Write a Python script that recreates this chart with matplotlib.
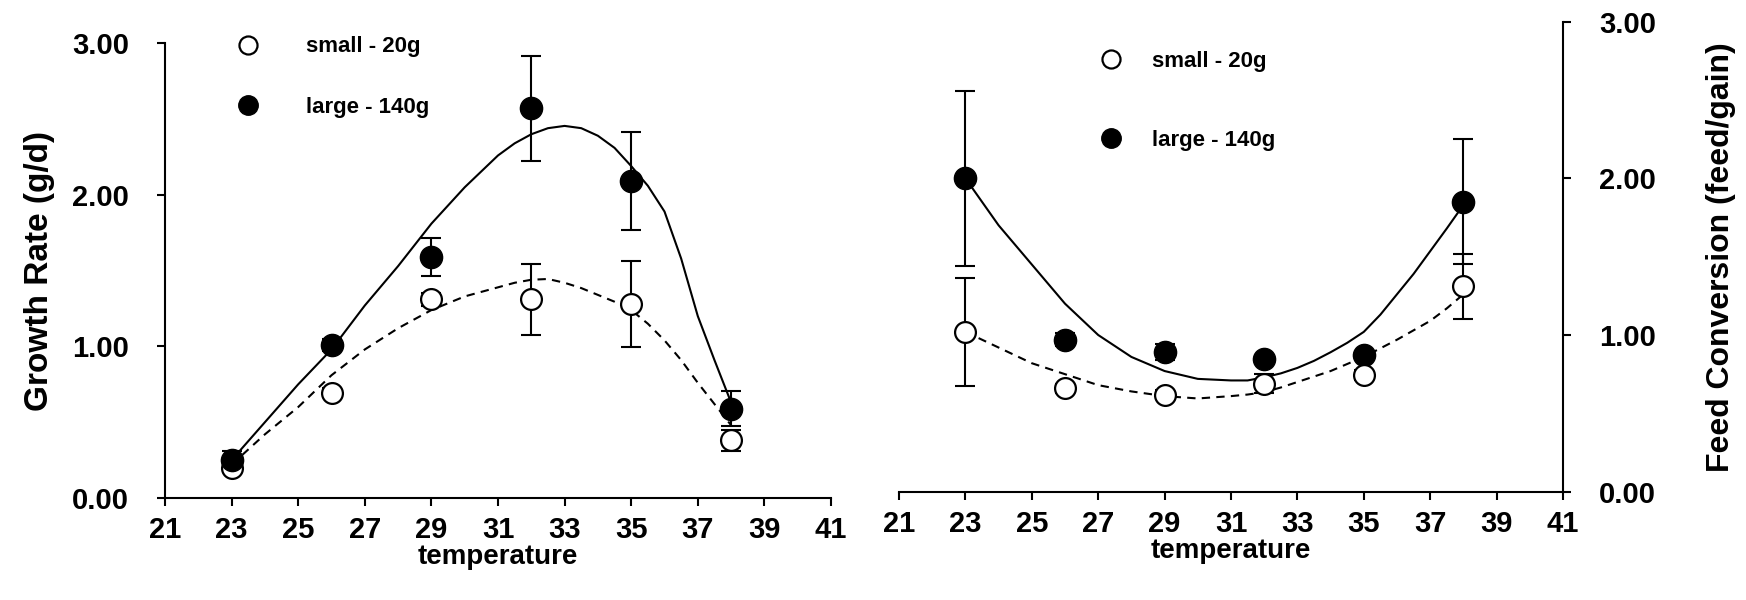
import numpy as np
import matplotlib
matplotlib.use('Agg')
import matplotlib.pyplot as plt
from matplotlib.lines import Line2D

# ── Fonts ─────────────────────────────────────────────────────────────────────
FONT = ['Liberation Sans', 'DejaVu Sans']
plt.rcParams['font.family'] = FONT
plt.rcParams['font.weight'] = 'bold'

# ── Data ──────────────────────────────────────────────────────────────────────
temp = [23, 26, 29, 32, 35, 38]

# growth rate (g/d)
growth_small = [0.20, 0.695, 1.31, 1.31, 1.28, 0.38]
growth_small_err = [0.03, 0.03, 0.04, 0.235, 0.285, 0.07]
growth_large = [0.25, 1.01, 1.59, 2.57, 2.09, 0.59]
growth_large_err = [0.06, 0.04, 0.125, 0.345, 0.325, 0.115]

# feed conversion (feed/gain)
fcr_small = [1.02, 0.66, 0.62, 0.69, 0.745, 1.31]
fcr_small_err = [0.345, 0.03, 0.03, 0.06, 0.03, 0.21]
fcr_large = [2.00, 0.97, 0.89, 0.845, 0.87, 1.85]
fcr_large_err = [0.56, 0.04, 0.05, 0.03, 0.03, 0.40]

# fitted trend curves
fit_t = [23, 24, 25, 26, 27, 28, 29, 30, 31, 31.5, 32, 32.5, 33, 33.5, 34,
         34.5, 35, 35.5, 36, 36.5, 37, 37.5, 38]
growth_small_fit = [0.22, 0.42, 0.60, 0.81, 0.98, 1.12, 1.24, 1.33, 1.39, 1.42,
                    1.44, 1.445, 1.42, 1.385, 1.34, 1.295, 1.24, 1.15, 1.04,
                    0.91, 0.76, 0.62, 0.48]
growth_large_fit = [0.25, 0.50, 0.75, 0.98, 1.27, 1.53, 1.81, 2.05, 2.26, 2.34,
                    2.40, 2.44, 2.455, 2.44, 2.39, 2.31, 2.19, 2.06, 1.89,
                    1.58, 1.20, 0.91, 0.63]
fcr_small_fit = [1.02, 0.92, 0.82, 0.75, 0.68, 0.64, 0.61, 0.595, 0.61, 0.62,
                 0.635, 0.665, 0.70, 0.735, 0.77, 0.815, 0.86, 0.915, 0.97,
                 1.03, 1.09, 1.17, 1.26]
fcr_large_fit = [2.00, 1.70, 1.45, 1.20, 1.00, 0.86, 0.77, 0.72, 0.71, 0.71,
                 0.73, 0.755, 0.79, 0.835, 0.89, 0.95, 1.02, 1.13, 1.26,
                 1.39, 1.535, 1.68, 1.83]

xticks = list(range(21, 42, 2))
yticks = [0, 1, 2, 3]
labels = ['small - 20g', 'large - 140g']

DASH = (0, (4, 3))


def draw_panel(ax, small, small_err, large, large_err, small_fit, large_fit,
               small_on_top):
    ax.plot(fit_t, small_fit, color='black', lw=1.5, ls=DASH, zorder=2)
    ax.plot(fit_t, large_fit, color='black', lw=1.5, zorder=2)
    z_small, z_large = (5, 4) if small_on_top else (4, 5)
    ax.errorbar(temp, small, yerr=small_err, fmt='none', ecolor='black',
                elinewidth=1.5, capsize=7, capthick=1.5, zorder=3)
    ax.errorbar(temp, large, yerr=large_err, fmt='none', ecolor='black',
                elinewidth=1.5, capsize=7, capthick=1.5, zorder=3)
    ax.plot(temp, small, 'o', ms=15, mfc='white', mec='black', mew=1.6,
            ls='none', zorder=z_small)
    ax.plot(temp, large, 'o', ms=16, mfc='black', mec='black',
            ls='none', zorder=z_large)

    ax.set_xlim(21, 41)
    ax.set_ylim(0, 3)
    ax.set_xticks(xticks)
    ax.set_yticks(yticks)
    ax.set_yticklabels([f'{v:.2f}' for v in yticks])
    ax.tick_params(direction='out', length=6, width=1.5, labelsize=21)
    ax.tick_params(axis='x', pad=7)
    ax.tick_params(axis='y', pad=20)
    for s in ax.spines.values():
        s.set_linewidth(1.5)
    ax.spines['top'].set_visible(False)
    ax.set_xlabel('temperature', fontsize=20, fontweight='bold', labelpad=0)


def add_legend(ax, anchor, spacing, textpad):
    handles = [
        Line2D([], [], marker='o', ls='none', ms=13, mfc='white', mec='black', mew=1.6),
        Line2D([], [], marker='o', ls='none', ms=14, mfc='black', mec='black'),
    ]
    ax.legend(handles, labels, loc='upper left', bbox_to_anchor=anchor,
              frameon=False, handlelength=1.0, handletextpad=textpad,
              labelspacing=spacing, borderpad=0, borderaxespad=0,
              prop={'family': FONT, 'weight': 'bold', 'size': 16})


fig = plt.figure(figsize=(17.46, 6), dpi=100)

# ── Left: growth rate ─────────────────────────────────────────────────────────
ax1 = fig.add_axes([165 / 1746, 102 / 600, 666 / 1746, 454.7 / 600])
draw_panel(ax1, growth_small, growth_small_err, growth_large, growth_large_err,
           growth_small_fit, growth_large_fit, small_on_top=False)
ax1.spines['right'].set_visible(False)
ax1.set_ylabel('Growth Rate (g/d)', fontsize=24, fontweight='bold', labelpad=12)
add_legend(ax1, (0.108, 1.015), 1.77, 2.1)

# ── Right: feed conversion ────────────────────────────────────────────────────
ax2 = fig.add_axes([899 / 1746, 108.3 / 600, 664 / 1746, 470.1 / 600])
draw_panel(ax2, fcr_small, fcr_small_err, fcr_large, fcr_large_err,
           fcr_small_fit, fcr_large_fit, small_on_top=True)
ax2.spines['left'].set_visible(False)
ax2.yaxis.tick_right()
ax2.yaxis.set_label_position('right')
ax2.set_ylabel('Feed Conversion (feed/gain)', fontsize=23, fontweight='bold',
               labelpad=36)
add_legend(ax2, (0.303, 0.938), 2.6, 1.32)

fig.savefig('out.png', dpi=100)
